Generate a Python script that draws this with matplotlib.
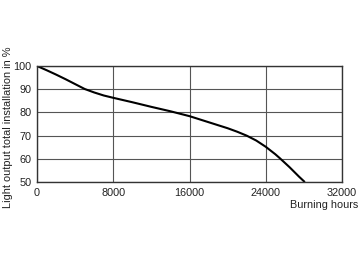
import matplotlib
matplotlib.use('Agg')
import matplotlib.pyplot as plt

plt.rcParams['font.family'] = ['Liberation Sans', 'DejaVu Sans']

hours = [0, 1000, 2000, 3000, 4000, 5000, 6000, 7000, 8000, 10000, 12000, 14000,
         16000, 18000, 20000, 21000, 22000, 23000, 24000, 25000, 25500, 26500, 27500, 28100]
light = [100, 98.2, 96.3, 94.3, 92.2, 90.1, 88.6, 87.3, 86.3, 84.4, 82.4, 80.5,
         78.4, 75.8, 73.2, 71.7, 70.0, 67.9, 65.2, 62.0, 60.2, 56.4, 52.3, 50.0]

xticks = [0, 8000, 16000, 24000, 32000]
yticks = [50, 60, 70, 80, 90, 100]

fig = plt.figure(figsize=(3.6, 2.62), dpi=100)
ax = fig.add_axes([0.103, 0.305, 0.847, 0.443])

ax.plot(hours, light, color='black', lw=1.5, solid_capstyle='butt')

ax.set_xlim(0, 32000)
ax.set_ylim(50, 100)
ax.set_xticks(xticks)
ax.set_yticks(yticks)
ax.set_xticklabels([str(t) for t in xticks])
ax.set_yticklabels([str(t) for t in yticks])
ax.tick_params(length=0, labelsize=7.8, pad=4, colors='#222222')
ax.grid(True, color='#555555', lw=0.8)
ax.set_axisbelow(True)
for s in ax.spines.values():
    s.set_color('#333333')
    s.set_linewidth(1.0)

fig.text(0.022, 0.515, 'Light output total installation in %', rotation=90,
         ha='center', va='center', fontsize=7.9, color='#222222')
fig.text(0.995, 0.218, 'Burning hours', ha='right', va='center',
         fontsize=7.8, color='#222222')

fig.savefig('out.png', dpi=100)
